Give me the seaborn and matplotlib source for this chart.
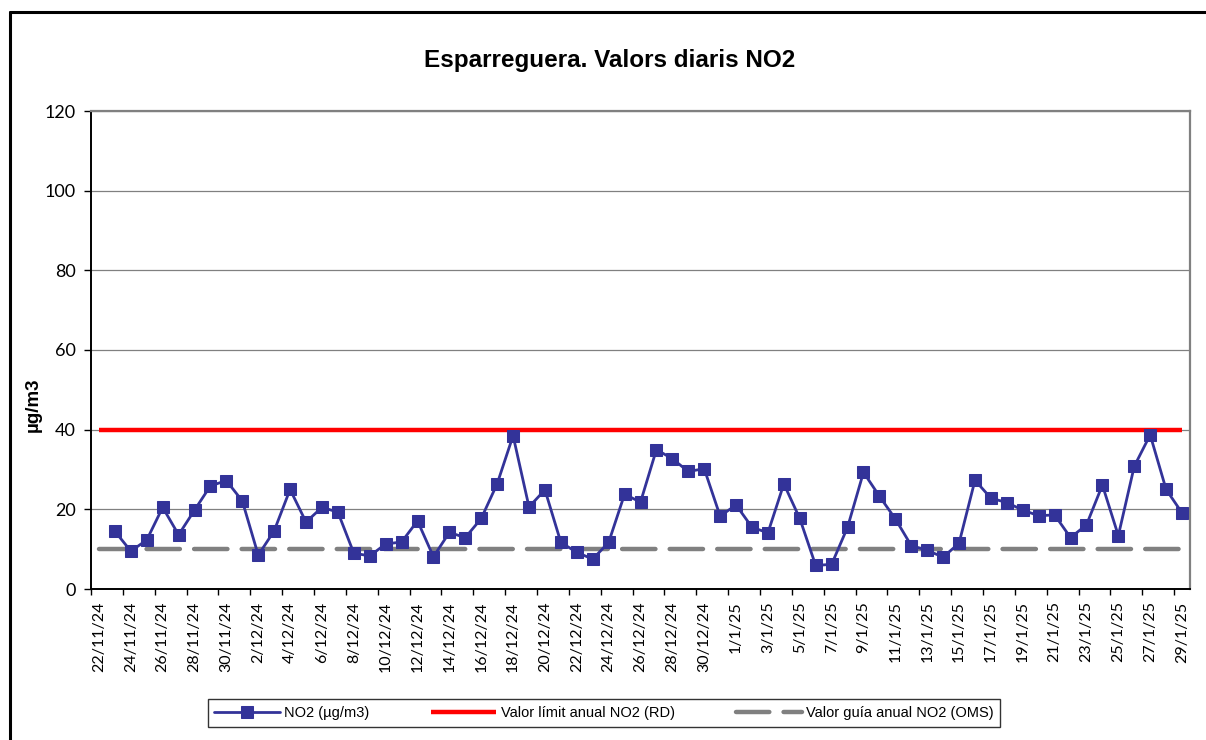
import numpy as np
import pandas as pd
import matplotlib
matplotlib.use("Agg")
import matplotlib.pyplot as plt
from matplotlib.lines import Line2D
import seaborn as sns


# DATA

dates = pd.date_range("2024-11-22", "2025-01-29", freq="D")
date_labels = [f"{d.day}/{d.month}/{d.strftime('%y')}" for d in dates]

# 22/11/24 has no value
no2_values = [
    np.nan,
    14.5, 9.5, 12.3, 20.5, 13.6, 19.8, 25.9, 27.2,
    22.1, 8.5, 14.6, 25.0, 16.8, 20.5, 19.3, 9.0, 8.3, 11.3,
    11.8, 17.1, 8.1, 14.2, 12.9, 17.7, 26.4, 38.5, 20.6, 24.9,
    11.7, 9.2, 7.5, 11.7, 23.8, 21.8, 35.0, 32.7, 29.5, 30.2, 18.3,
    21.1, 15.5, 14.1, 26.4, 17.7, 5.9, 6.2, 15.5, 29.3, 23.3,
    17.6, 10.9, 9.7, 8.0, 11.5, 27.3, 22.8, 21.7, 19.8, 18.4,
    18.6, 12.9, 16.1, 26.1, 13.4, 30.8, 38.7, 25.0, 19.1,
]

limit_value = 40   # Valor límit anual (RD)
guide_value = 10   # Valor guia anual (OMS)

df = pd.DataFrame({
    "pos": np.arange(len(dates)),
    "label": date_labels,
    "NO2": no2_values,
    "limit": limit_value,
    "guide": guide_value,
})


# PLOT

sns.set_style("white")
plt.rcParams["font.family"] = ["Liberation Sans", "DejaVu Sans"]
plt.rcParams["text.color"] = "black"
plt.rcParams["xtick.color"] = "black"
plt.rcParams["ytick.color"] = "black"
plt.rcParams["axes.labelcolor"] = "black"

fig = plt.figure(figsize=(12.06, 7.40), dpi=100)
ax = fig.add_axes([91 / 1206, 1 - 589 / 740, (1190 - 91) / 1206, (589 - 111) / 740])

sns.lineplot(data=df, x="pos", y="limit", ax=ax, color="#ff0000",
             linewidth=3.2, solid_capstyle="butt", label="Valor límit anual NO2 (RD)",
             zorder=3)
sns.lineplot(data=df, x="pos", y="guide", ax=ax, color="#808080",
             linewidth=3.2, label="Valor guía anual NO2 (OMS)",
             dashes=False, zorder=2)
ax.lines[-1].set_linestyle((0, (7.5, 3.2)))
ax.lines[-1].set_dash_capstyle("round")

sns.lineplot(data=df.dropna(), x="pos", y="NO2", ax=ax, color="#333399",
             linewidth=2, marker="s", markersize=8, markeredgecolor="#333399",
             label="NO2 (µg/m3)", zorder=4)

# AXES

ax.set_xlim(-0.5, len(dates) - 0.5)
ax.set_ylim(0, 120)
ax.set_yticks(np.arange(0, 121, 20))
ax.yaxis.grid(True, color="#808080", linewidth=0.9)
ax.set_axisbelow(True)

ax.set_xticks(np.arange(-0.5, len(dates), 2))
ax.set_xticklabels([])
ax.set_xticks(df["pos"][::2], minor=True)
ax.set_xticklabels(df["label"][::2], minor=True, rotation=90,
                   fontsize=11.5, family=["Lato", "DejaVu Sans"])
ax.tick_params(axis="x", which="major", direction="out", length=4,
               width=1, color="black", bottom=True)
ax.tick_params(axis="x", which="minor", length=0, pad=9)
ax.tick_params(axis="y", direction="out", length=5, width=1,
               color="black", left=True, labelsize=13, pad=6)
for t in ax.get_yticklabels():
    t.set_family(["Lato", "DejaVu Sans"])

ax.spines["left"].set_color("black")
ax.spines["bottom"].set_color("black")
ax.spines["left"].set_linewidth(1.4)
ax.spines["bottom"].set_linewidth(1.4)
ax.spines["top"].set_color("#808080")
ax.spines["right"].set_color("#808080")
ax.spines["top"].set_linewidth(1.6)
ax.spines["right"].set_linewidth(1.6)

ax.set_xlabel("")
ax.set_ylabel("")
fig.text(33 / 1206, 1 - 405 / 740, "µg/m3", rotation=90, ha="center",
         va="center", fontsize=13.5, fontweight="bold")

fig.text(610 / 1206, 1 - 61 / 740, "Esparreguera. Valors diaris NO2",
         ha="center", va="center", fontsize=17.5, fontweight="bold")

# LEGEND

handles, labels = ax.get_legend_handles_labels()
order = [labels.index("NO2 (µg/m3)"),
         labels.index("Valor límit anual NO2 (RD)"),
         labels.index("Valor guía anual NO2 (OMS)")]
ax.get_legend().remove()
leg = fig.legend([handles[i] for i in order], [labels[i] for i in order],
                 loc="center", bbox_to_anchor=(604 / 1206, 1 - 713 / 740),
                 ncol=3, frameon=True, fancybox=False, fontsize=10.5,
                 handlelength=4.5, columnspacing=4.2, borderpad=0.45,
                 borderaxespad=0, handletextpad=0.3)
leg.get_frame().set_edgecolor("black")
leg.get_frame().set_linewidth(1)

# OUTER BORDER

fig.add_artist(Line2D([10 / 1206, 1.0], [1 - 12 / 740, 1 - 12 / 740],
                      color="black", linewidth=2.2, transform=fig.transFigure))
fig.add_artist(Line2D([10 / 1206, 10 / 1206], [0, 1 - 12 / 740],
                      color="black", linewidth=2.2, transform=fig.transFigure))

fig.savefig("out.png", dpi=100)
